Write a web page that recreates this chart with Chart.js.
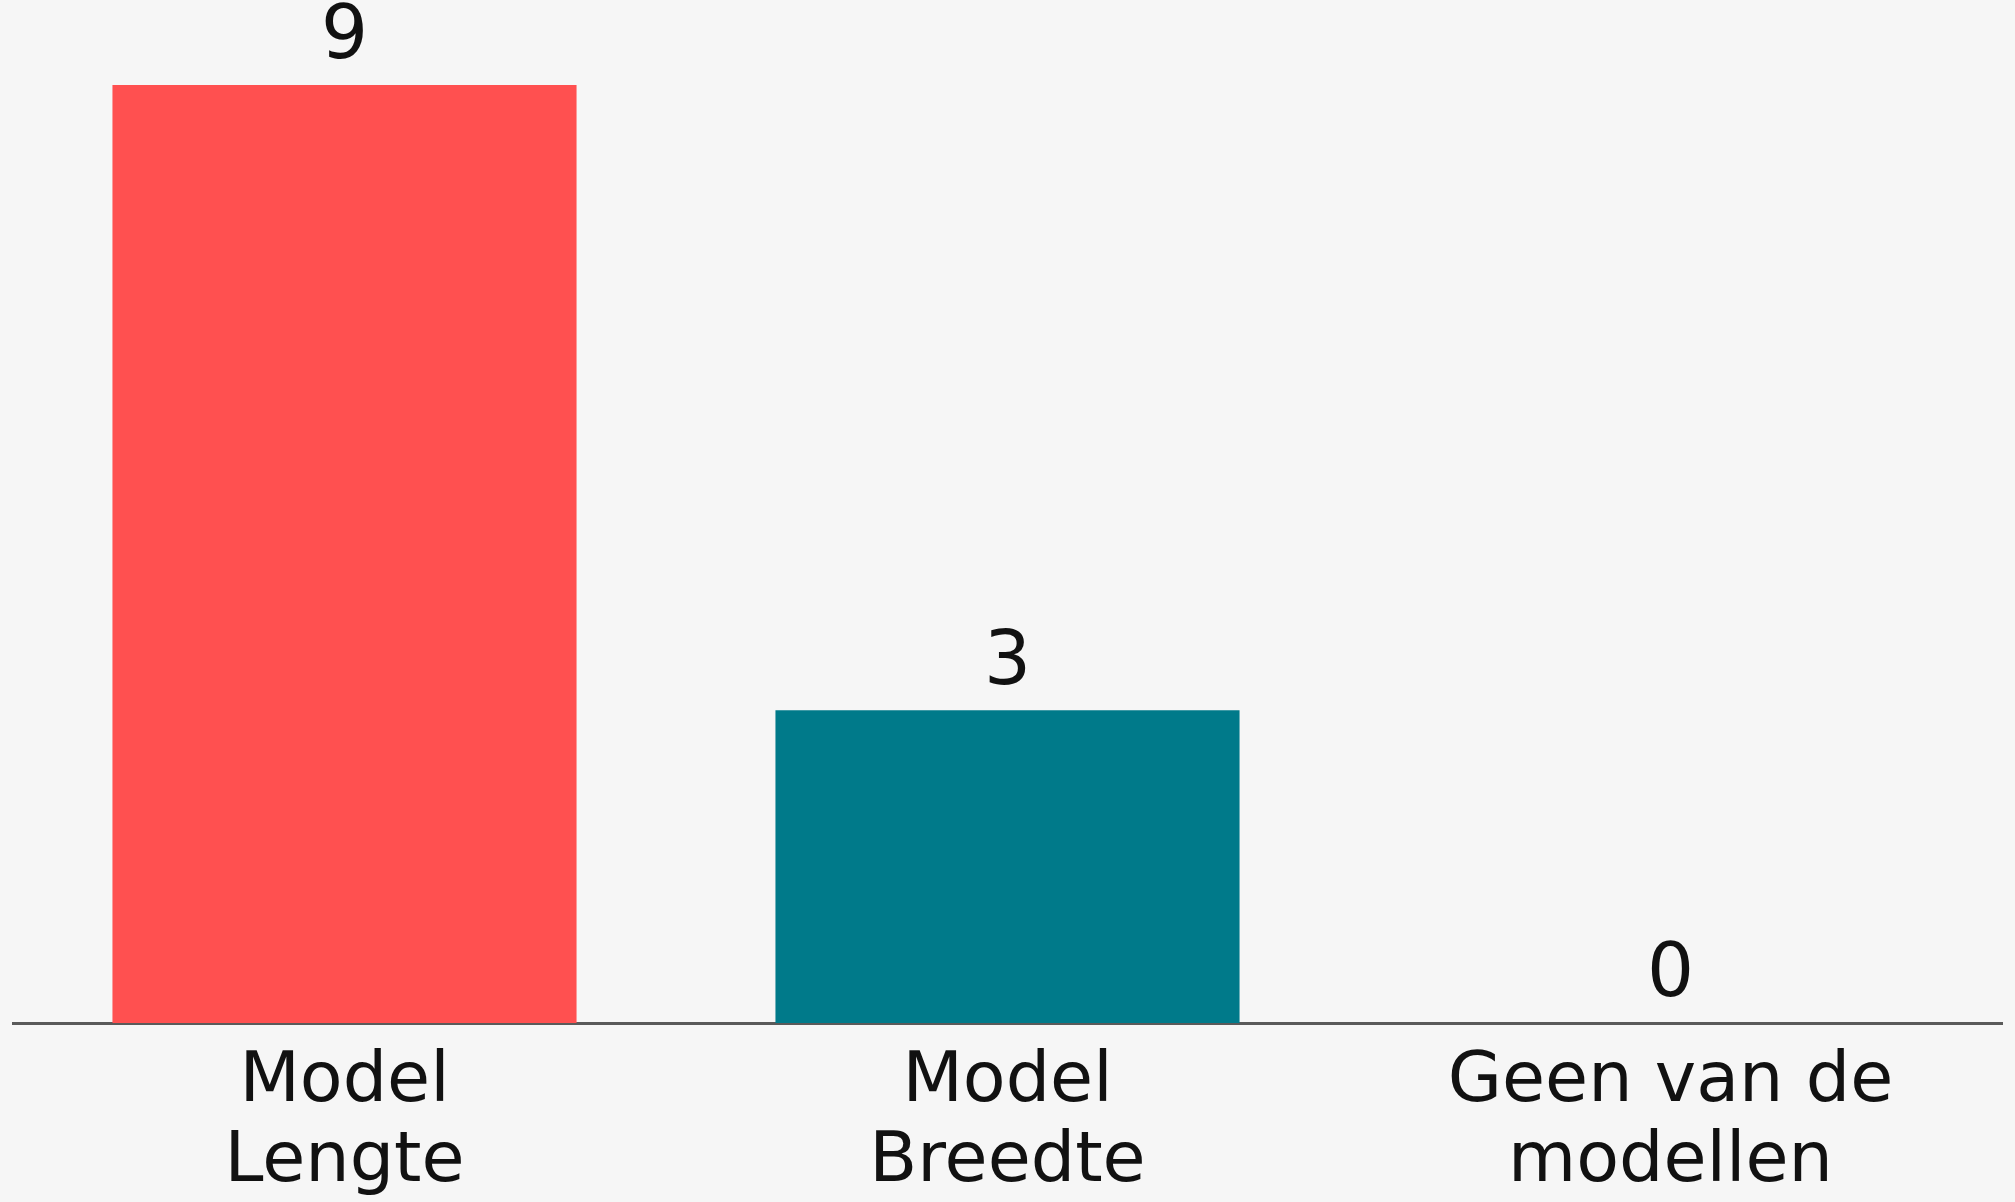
<!DOCTYPE html>
<html>
<head>
<meta charset="utf-8">
<script src="https://cdn.jsdelivr.net/npm/chart.js@4"></script>
<style>
  html, body { margin: 0; padding: 0; background: #f6f6f6; overflow: hidden; }
  #wrap { width: 2015px; height: 1202px; position: relative; }
</style>
</head>
<body>
<div id="wrap"><canvas id="barChart"></canvas></div>
<script>

var categories = [['Model', 'Lengte'], ['Model', 'Breedte'], ['Geen van de', 'modellen']];
var counts = [9, 3, 0];
var barColors = ['#ff5050', '#007a8a', '#9e9e9e'];


// draws the number above each bar (no datalabels plugin offline)
var valueLabels = {
  id: 'valueLabels',
  afterDatasetsDraw: function(chart){
    var ctx = chart.ctx;
    var meta = chart.getDatasetMeta(0);
    ctx.save();
    ctx.fillStyle = '#111';
    ctx.font = '74px "DejaVu Sans"';
    ctx.textAlign = 'center';
    ctx.textBaseline = 'middle';
    meta.data.forEach(function(bar, i){
      ctx.fillText(String(counts[i]), bar.x, bar.y - 46);
    });
    ctx.restore();
  }
};


function bar_graph(){

  var barChart = document.getElementById('barChart').getContext('2d');

  new Chart(barChart, {

      type: 'bar',

      data: {
          labels: categories,

          datasets: [{
              data: counts,
              backgroundColor: barColors,
              borderWidth: 0,
              barPercentage: 0.7,
              categoryPercentage: 1.0
          }]
      },

      options: {
          responsive: true,
          maintainAspectRatio: false,
          animation: false,
          layout: {
              padding: {top: 85, left: 13, right: 13, bottom: 0}
          },
          plugins: {
              legend: {display: false},
              tooltip: {enabled: false}
          },
          scales: {
              x: {
                  grid: {display: false},
                  border: {display: true, color: '#5a5a5a', width: 3},
                  ticks: {
                      color: '#111',
                      padding: 12,
                      maxRotation: 0,
                      autoSkip: false,
                      font: {family: 'DejaVu Sans', size: 70, lineHeight: 1.14}
                  },
                  afterFit: function(scale){
                      scale.height = 179;
                  }
              },
              y: {
                  display: false,
                  min: 0,
                  max: 9
              }
          }
      },

      plugins: [valueLabels]
  });
}

bar_graph();

</script>
</body>
</html>
